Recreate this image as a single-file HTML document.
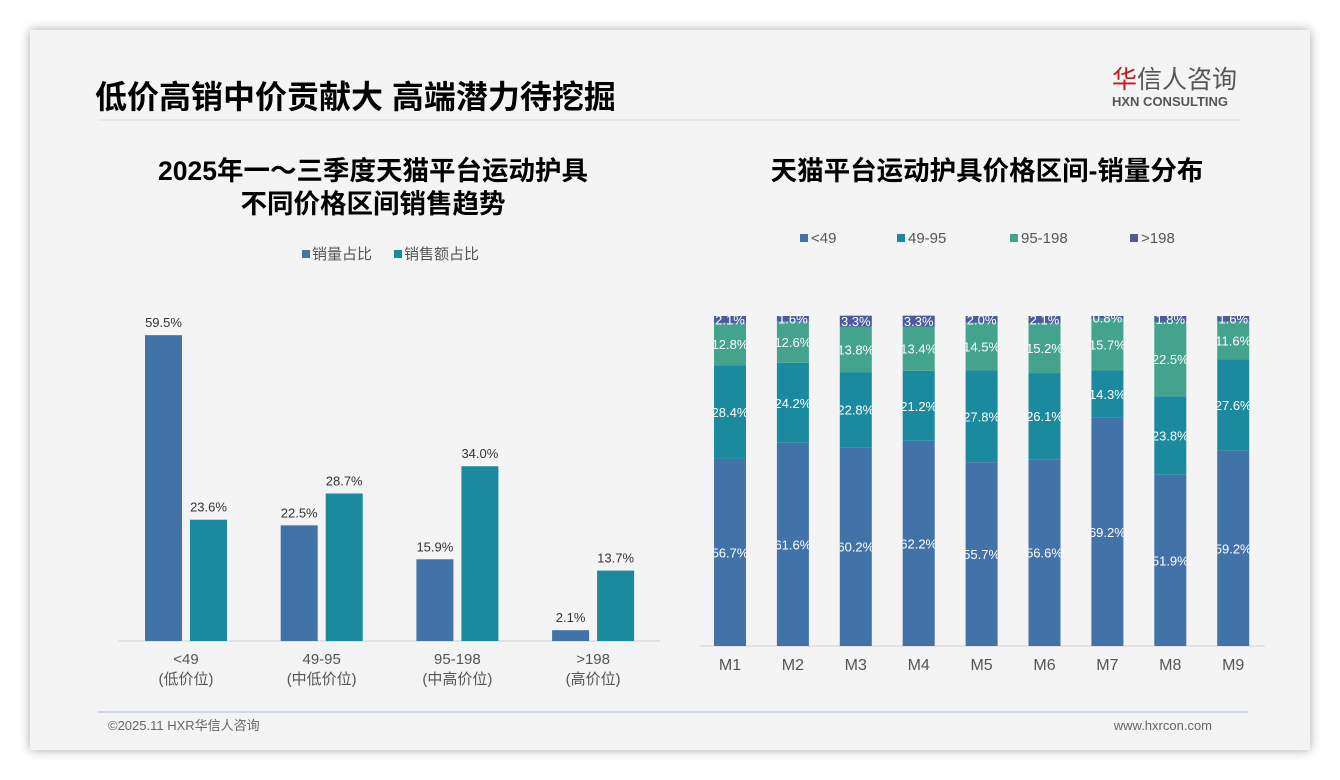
<!DOCTYPE html>
<html><head><meta charset="utf-8"><style>
body{margin:0;width:1340px;height:780px;background:#fff;font-family:"Liberation Sans","Noto Sans CJK SC",sans-serif;overflow:hidden}
#card{position:absolute;left:30px;top:30px;width:1280px;height:720px;background:#f4f4f4;box-shadow:0 0 10px rgba(0,0,0,.35)}
</style></head><body>
<div id="card"></div>
<svg width="1340" height="780" style="position:absolute;left:0;top:0" font-family="Liberation Sans, Noto Sans CJK SC, sans-serif">
<text x="95" y="108" font-size="32" font-weight="bold" fill="#000">低价高销中价贡献大 高端潜力待挖掘</text>
<line x1="98" y1="120" x2="1240" y2="120" stroke="#ddd"/>
<text x="1112" y="88" font-size="25" fill="#555"><tspan fill="#c8161d">华</tspan>信人咨询</text>
<text x="1112" y="106" font-size="13" font-weight="bold" fill="#555">HXN CONSULTING</text>
<text x="373" y="180" font-size="26.5" font-weight="bold" text-anchor="middle">2025年一～三季度天猫平台运动护具</text>
<text x="373" y="213" font-size="26.5" font-weight="bold" text-anchor="middle">不同价格区间销售趋势</text>
<text x="987" y="180" font-size="26.5" font-weight="bold" text-anchor="middle">天猫平台运动护具价格区间-销量分布</text>
<g id="left"></g>
<g id="right"></g>
<line x1="98" y1="712" x2="1248" y2="712" stroke="#a9bed6"/>
<text x="108" y="730" font-size="13" fill="#666">©2025.11 HXR华信人咨询</text>
<text x="1212" y="730" font-size="13" fill="#666" text-anchor="end">www.hxrcon.com</text>
</svg>
<script>
const leftCats=["<49","49-95","95-198",">198"];
const leftSub=["(低价位)","(中低价位)","(中高价位)","(高价位)"];
const leftVol=[59.5,22.5,15.9,2.1];
const leftAmt=[23.6,28.7,34.0,13.7];
const rightCats=["M1","M2","M3","M4","M5","M6","M7","M8","M9"];
const rightSeries=["<49","49-95","95-198",">198"];
const sLow=[56.7,61.6,60.2,62.2,55.7,56.6,69.2,51.9,59.2];
const sMid=[28.4,24.2,22.8,21.2,27.8,26.1,14.3,23.8,27.6];
const sHigh=[12.8,12.6,13.8,13.4,14.5,15.2,15.7,22.5,11.6];
const sTop=[2.1,1.6,3.3,3.3,2.0,2.1,0.8,1.8,1.6];
const NS="http://www.w3.org/2000/svg";
function mk(p,t,a,txt){const e=document.createElementNS(NS,t);for(const k in a)e.setAttribute(k,a[k]);if(txt!=null)e.textContent=txt;p.appendChild(e);return e;}
const C1="#4273a8",C2="#1b8a9e",C3="#44a38c",C4="#4d5a9e";
const L=document.getElementById('left');
const ly=v=>641-v*5.14, lx=i=>186+i*135.7;
let e=mk(L,'line',{x1:118,y1:641,x2:660,y2:641,stroke:'#d0d0d0'});

[[C1,"销量占比",302],[C2,"销售额占比",394]].forEach(([c,t,x])=>{
 let r=mk(L,'rect',{x:x,y:250,width:8,height:8,fill:c});
 
 let tx=mk(L,'text',{x:x+10,y:259,'font-size':15,fill:'#555'},t);
 
});
leftCats.forEach((c,i)=>{
 [[leftVol[i],C1,-41],[leftAmt[i],C2,4]].forEach(([v,col,dx])=>{
  let b=mk(L,'rect',{x:lx(i)+dx,y:ly(v),width:37,height:641-ly(v),fill:col});
  
  let t=mk(L,'text',{x:lx(i)+dx+18.5,y:ly(v)-8,'font-size':13,'text-anchor':'middle',fill:'#333'},v.toFixed(1)+'%');
  
 });
 let t1=mk(L,'text',{x:lx(i),y:664,'font-size':15,'text-anchor':'middle',fill:'#555'},c);
 
 let t2=mk(L,'text',{x:lx(i),y:684,'font-size':15,'text-anchor':'middle',fill:'#555'},leftSub[i]);
 
});
const R=document.getElementById('right');
const rx=i=>730+i*62.9, rh=v=>v*3.3, base=646;
e=mk(R,'line',{x1:700,y1:646,x2:1265,y2:646,stroke:'#d0d0d0'});

const cols=[C1,C2,C3,C4],lgx=[800,897,1010,1130];
rightSeries.forEach((s,k)=>{
 let r=mk(R,'rect',{x:lgx[k],y:234,width:8,height:8,fill:cols[k]});
 
 let t=mk(R,'text',{x:lgx[k]+11,y:243,'font-size':15,fill:'#555'},s);
 
});
const defs=mk(R,'defs',{});
rightCats.forEach((m,i)=>{
 const cp=mk(defs,'clipPath',{id:'cp'+i});mk(cp,'rect',{x:rx(i)-16,y:300,width:32,height:350});
 let y=base;
 [sLow,sMid,sHigh,sTop].forEach((arr,k)=>{
  const h=rh(arr[i]);y-=h;
  let b=mk(R,'rect',{x:rx(i)-16,y:y,width:32,height:h,fill:cols[k]});
  
  let t=mk(R,'text',{x:rx(i),y:y+h/2+5,'font-size':13,'text-anchor':'middle',fill:'#fff','clip-path':'url(#cp'+i+')'},arr[i].toFixed(1)+'%');
  
 });
 let t=mk(R,'text',{x:rx(i),y:670,'font-size':16,'text-anchor':'middle',fill:'#555'},m);
 
});
</script>
</body></html>
